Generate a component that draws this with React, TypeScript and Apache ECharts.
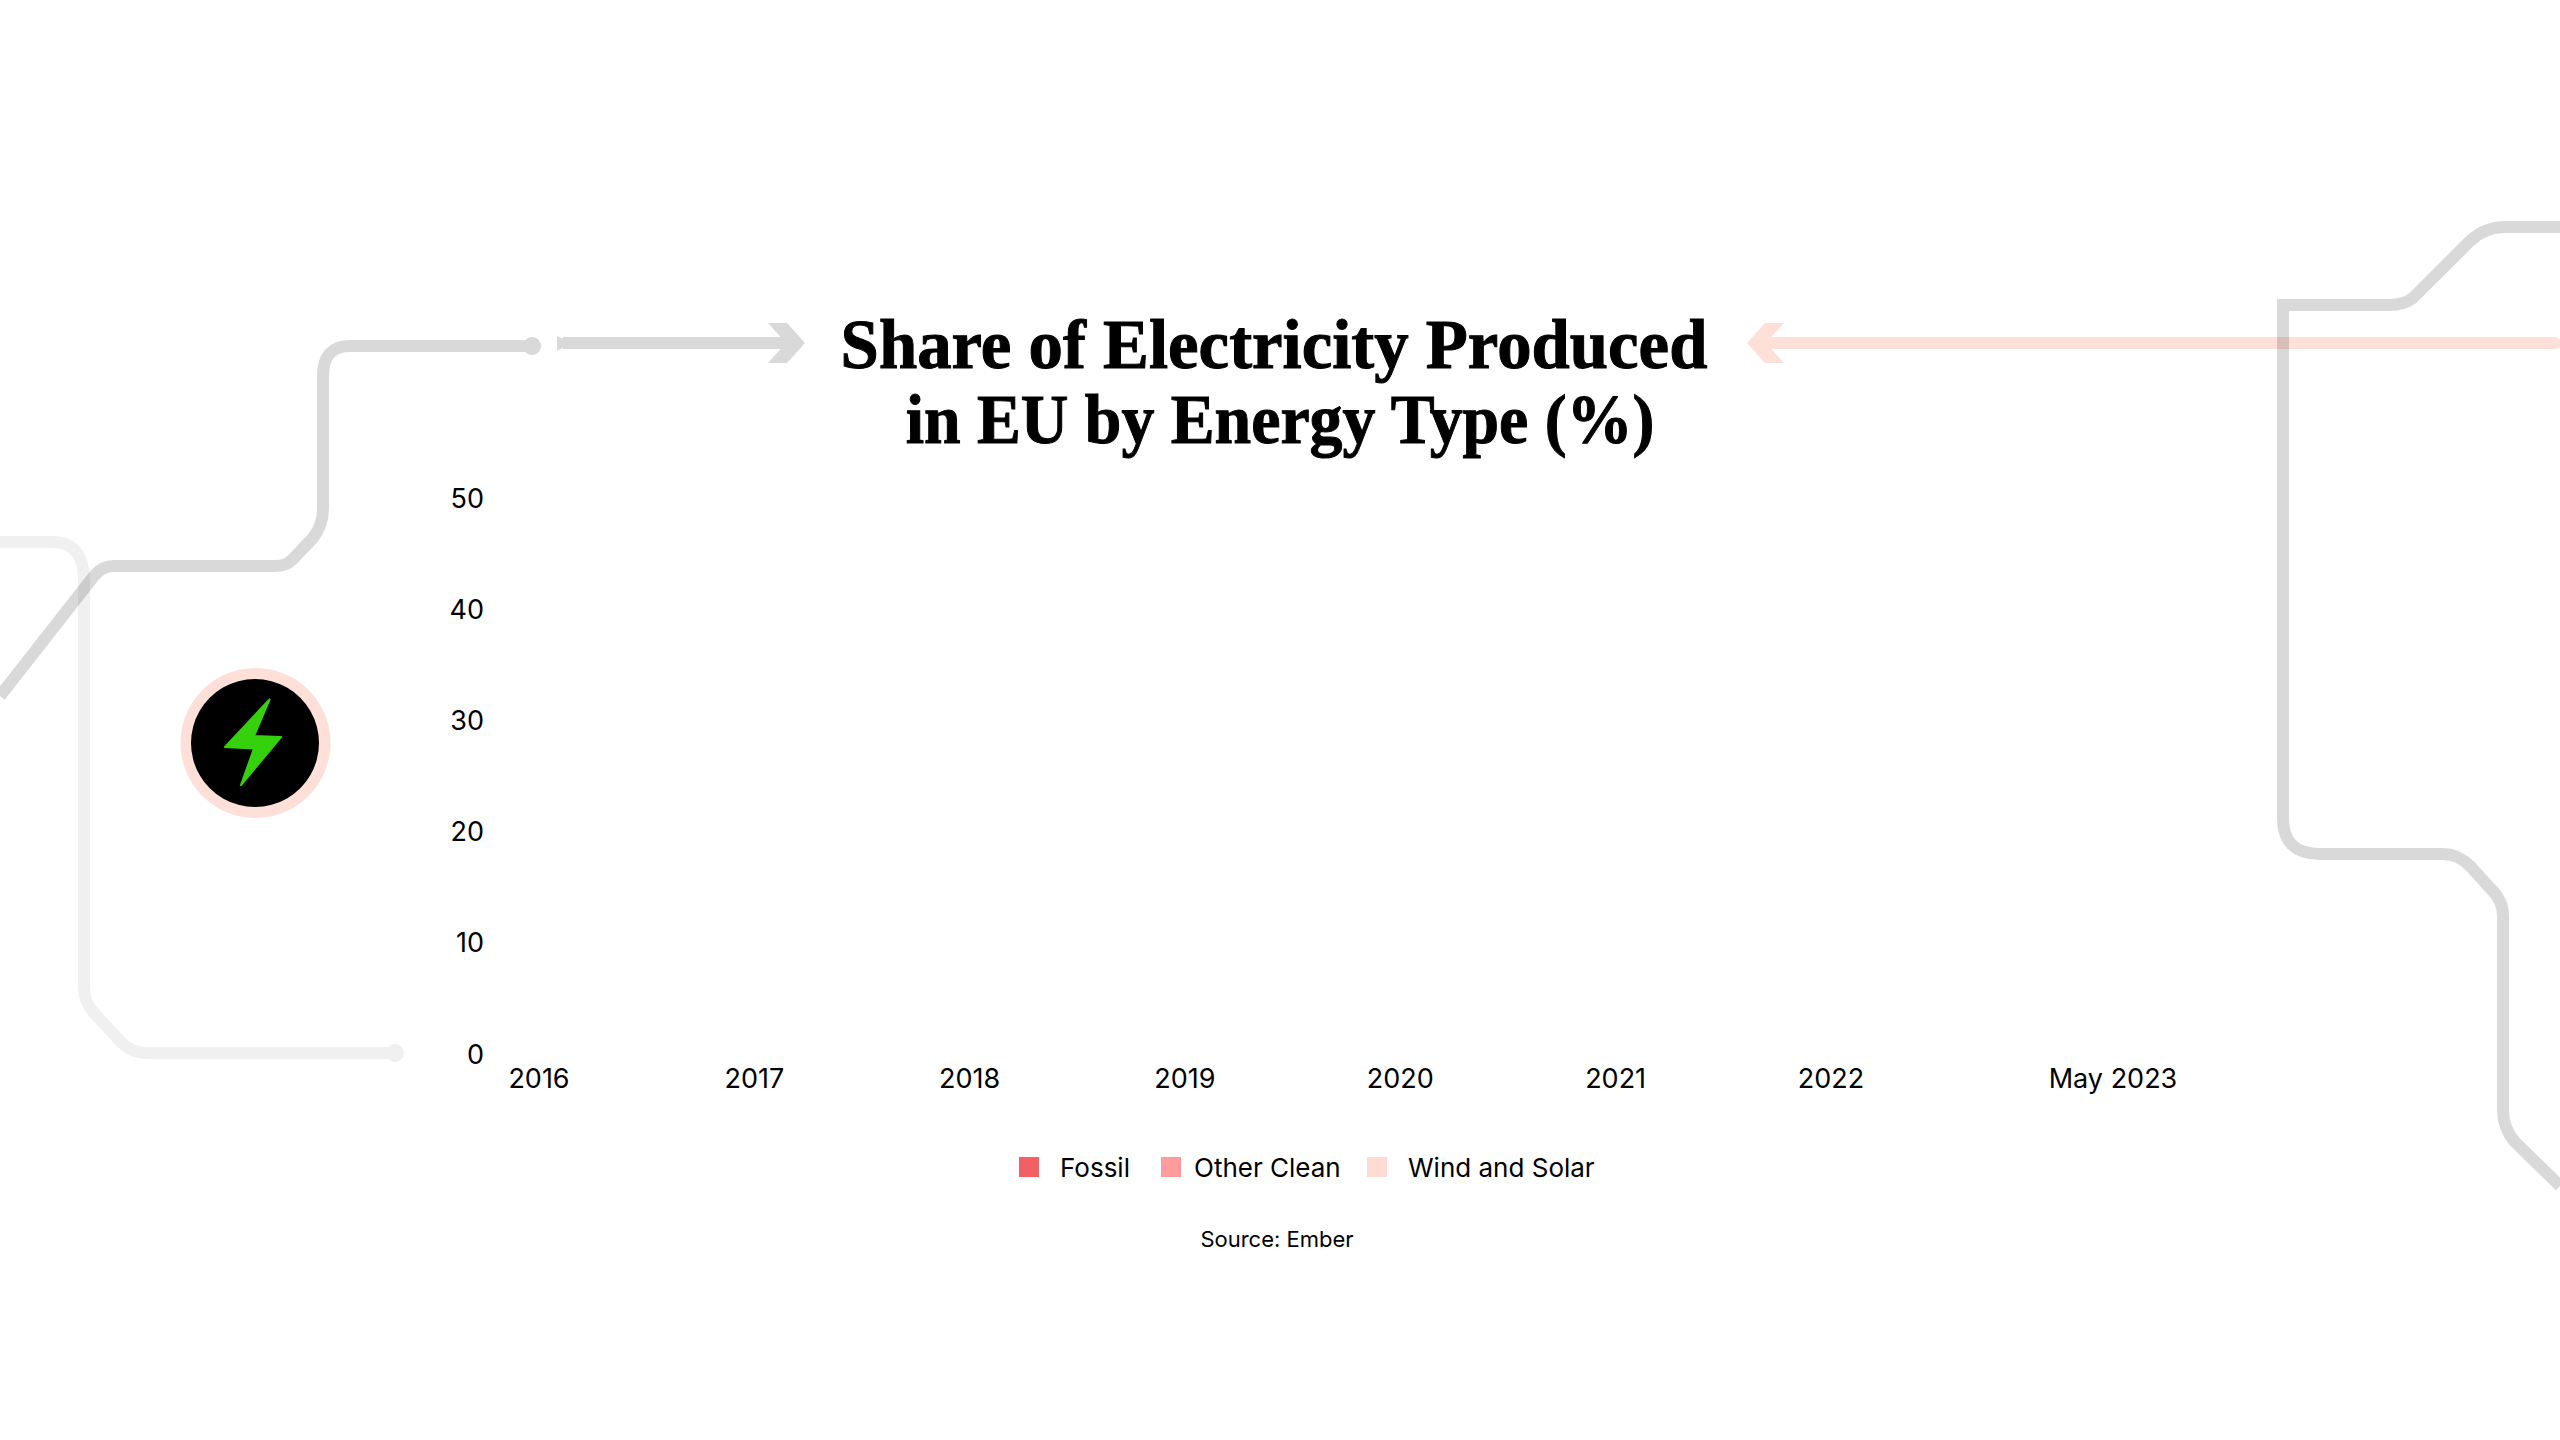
import React, { useEffect, useRef } from "react";
import * as echarts from "echarts";

const years = [2016, 2017, 2018, 2019, 2020, 2021, 2022, 2023.31];
const tickLabels = ["2016", "2017", "2018", "2019", "2020", "2021", "2022", "May 2023"];
const fossil: (number | null)[] = [null, null, null, null, null, null, null, null];
const otherClean: (number | null)[] = [null, null, null, null, null, null, null, null];
const windSolar: (number | null)[] = [null, null, null, null, null, null, null, null];
const yTicks = [0, 10, 20, 30, 40, 50];

const SANS = "Inter";
const SERIF = "Liberation Serif";
const GREY = "rgba(0,0,0,0.15)";
const FAINT = "rgba(0,0,0,0.06)";
const PEACH = "#fee0d8";

const networkRight = "M2560 227 L2505 227 Q2485 227 2470 241 L2413 298 Q2403 305 2390 305 L2283 305 L2283 818 Q2283 854 2320 854 L2443 854 Q2458 854 2470 866 L2490 888 Q2503 900 2503 916 L2503 1111 Q2503 1128 2515 1142 L2560 1186";
const networkLeft = "M532 346 L350 346 Q323 346 323 376 L323 509 Q323 525 313 538 L292 560 Q286 566 275 566 L114 566 Q102 566 94 576 L0 696";
const networkFaint = "M0 542 L52 542 Q84 542 84 580 L84 988 Q84 1002 95 1014 L122 1043 Q132 1053 146 1053 L395 1053";

function App() {
  const ref = useRef<HTMLDivElement>(null);
  useEffect(() => {
    echarts.graphic.registerShape("netRight", echarts.graphic.extendPath(networkRight, {}));
    echarts.graphic.registerShape("netLeft", echarts.graphic.extendPath(networkLeft, {}));
    echarts.graphic.registerShape("netFaint", echarts.graphic.extendPath(networkFaint, {}));
    const chart = echarts.init(ref.current!, null, { renderer: "svg" });
    const toPairs = (vals: (number | null)[]) => vals.map((v, i) => [years[i], v]);
    const titleStyle = {
      fontFamily: SERIF,
      fontWeight: "bold",
      fontSize: 70,
      fill: "#000",
      stroke: "#000",
      lineWidth: 1,
      textAlign: "center",
      textVerticalAlign: "middle",
    };
    chart.setOption({
      animation: false,
      backgroundColor: "#ffffff",
      title: [
        {
          text: "Source: Ember",
          left: 1272,
          top: 1223,
          textAlign: "center",
          textStyle: { fontFamily: SANS, fontWeight: "normal", fontSize: 22, color: "#000" },
        },
      ],
      legend: [
        { left: 1014, top: 1149, data: ["Fossil"], itemWidth: 20, itemHeight: 20, icon: "rect", textStyle: { fontFamily: SANS, fontSize: 26, color: "#000", padding: [0, 0, 0, 16] } },
        { left: 1156, top: 1149, data: ["Other Clean"], itemWidth: 20, itemHeight: 20, icon: "rect", textStyle: { fontFamily: SANS, fontSize: 26, color: "#000", padding: [0, 0, 0, 8] } },
        { left: 1362, top: 1149, data: ["Wind and Solar"], itemWidth: 20, itemHeight: 20, icon: "rect", textStyle: { fontFamily: SANS, fontSize: 26, color: "#000", padding: [0, 0, 0, 16] } },
      ],
      grid: { left: 539, right: 2560 - 2113, top: 498, bottom: 1440 - 1054, containLabel: false },
      xAxis: {
        type: "value",
        min: 2016,
        max: 2023.31,
        axisLine: { show: false },
        axisTick: { show: false },
        splitLine: { show: false },
        axisLabel: {
          customValues: years,
          margin: 11,
          hideOverlap: false,
          fontFamily: SANS,
          fontSize: 27,
          color: "#000",
          formatter: (v: number) => tickLabels[years.indexOf(v)] ?? "",
        },
      },
      yAxis: {
        type: "value",
        min: 0,
        max: 50,
        interval: 10,
        axisLine: { show: false },
        axisTick: { show: false },
        splitLine: { show: false },
        axisLabel: {
          margin: 55,
          fontFamily: SANS,
          fontSize: 27,
          color: "#000",
          customValues: yTicks,
        },
      },
      series: [
        { name: "Fossil", type: "bar", stack: "share", data: toPairs(fossil), itemStyle: { color: "#f25f64" } },
        { name: "Other Clean", type: "bar", stack: "share", data: toPairs(otherClean), itemStyle: { color: "#ff9a9d" } },
        { name: "Wind and Solar", type: "bar", stack: "share", data: toPairs(windSolar), itemStyle: { color: "#fedcd3" } },
      ],
      graphic: [
        { type: "netFaint", silent: true, style: { fill: "none", stroke: FAINT, lineWidth: 12 } },
        { type: "circle", silent: true, shape: { cx: 395, cy: 1053, r: 9 }, style: { fill: "#f0f0f0" } },
        { type: "line", silent: true, shape: { x1: 1762, y1: 343, x2: 2555, y2: 343 }, style: { stroke: PEACH, lineWidth: 12, lineCap: "round" } },
        { type: "polygon", silent: true, shape: { points: [[1784, 323], [1765, 323], [1747, 343], [1765, 363], [1784, 363], [1766, 343]] }, style: { fill: PEACH } },
        { type: "netRight", silent: true, style: { fill: "none", stroke: GREY, lineWidth: 12 } },
        { type: "netLeft", silent: true, style: { fill: "none", stroke: GREY, lineWidth: 12 } },
        { type: "circle", silent: true, shape: { cx: 532, cy: 346, r: 9 }, style: { fill: "#d9d9d9" } },
        { type: "rect", silent: true, shape: { x: 563, y: 337, width: 228, height: 12 }, style: { fill: "#d9d9d9" } },
        { type: "polygon", silent: true, shape: { points: [[557, 336], [566, 340], [566, 346], [557, 351]] }, style: { fill: "#d9d9d9" } },
        { type: "polygon", silent: true, shape: { points: [[768, 323], [787, 323], [805, 343], [787, 363], [768, 363], [786, 343]] }, style: { fill: "#d9d9d9" } },
        { type: "circle", silent: true, shape: { cx: 255.5, cy: 743, r: 75 }, style: { fill: PEACH } },
        { type: "circle", silent: true, shape: { cx: 255, cy: 743, r: 64 }, style: { fill: "#000" } },
        {
          type: "polygon",
          silent: true,
          shape: { points: [[269.5, 699.5], [254, 736], [281, 737], [241, 785], [254, 748.5], [225, 747]] },
          style: { fill: "#36d10d", stroke: "#36d10d", lineWidth: 2, lineJoin: "round" },
        },
        { type: "text", silent: true, x: 1274, y: 344, scaleX: 0.983, style: { ...titleStyle, text: "Share of Electricity Produced" } },
        { type: "text", silent: true, x: 1280, y: 419, scaleX: 0.94, style: { ...titleStyle, text: "in EU by Energy Type (%)" } },
      ],
    });
    return () => chart.dispose();
  }, []);
  return <div ref={ref} style={{ position: "absolute", left: 0, top: 0, width: 2560, height: 1440 }} />;
}

export default App;
